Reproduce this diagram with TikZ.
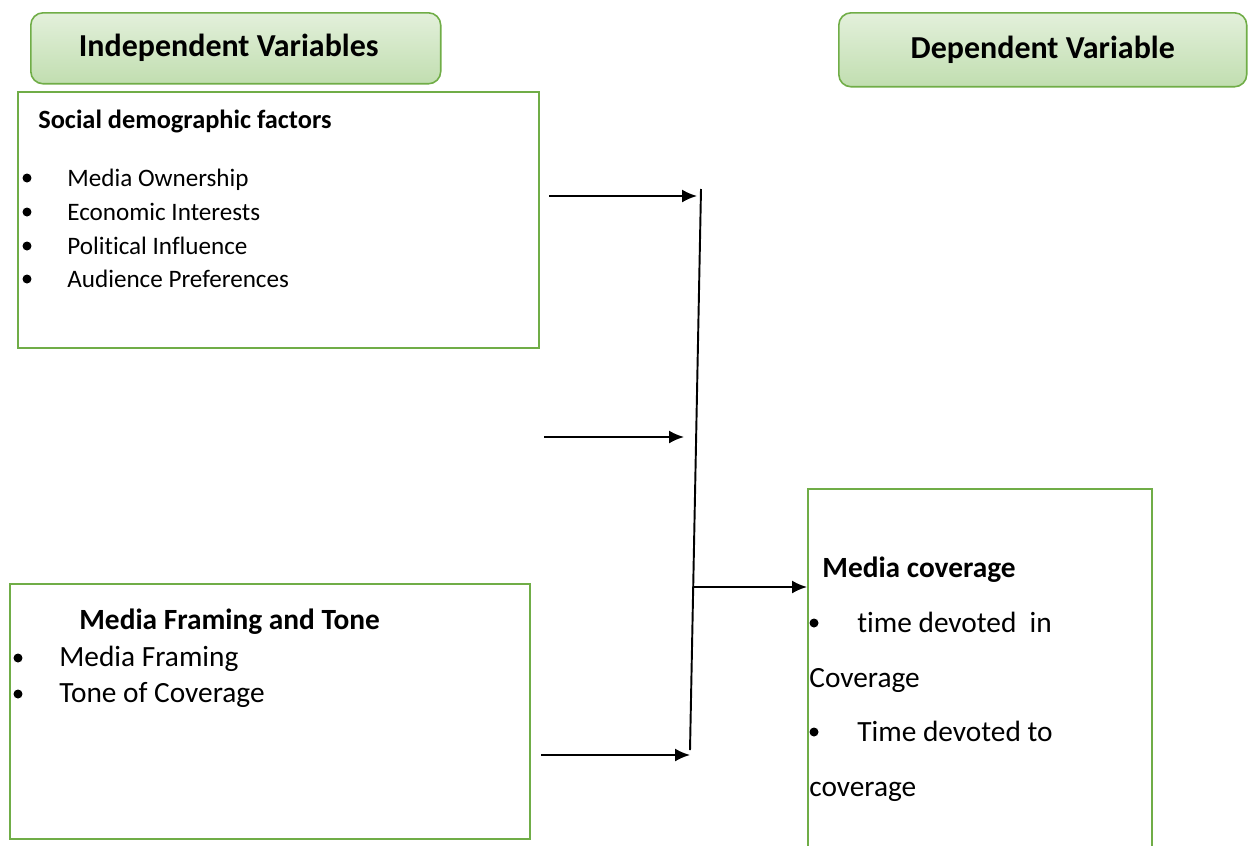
\documentclass[tikz,border=0pt]{standalone}
\usepackage{fontspec}
\setmainfont{Carlito}[Ligatures=NoCommon]
\usetikzlibrary{positioning,arrows.meta,shadings}
\definecolor{border}{RGB}{112,173,71}
\definecolor{headtop}{RGB}{227,240,219}
\definecolor{headbot}{RGB}{193,222,176}
\tikzset{%
  header/.style={draw=border, line width=0.9pt, rounded corners=7pt, top color=headtop,
    bottom color=headbot, anchor=north west, inner sep=0pt,
    font=\fontsize{18.2}{21}\selectfont\bfseries},% variable kind heading
  factor/.style={draw=border, line width=1.2pt, anchor=north west, inner sep=0pt},% green frame
  title/.style={anchor=base west, inner sep=0pt, font=\fontsize{15}{17}\selectfont\bfseries},
  bigtitle/.style={title, font=\fontsize{16.7}{19}\selectfont\bfseries},
  item/.style={anchor=base west, inner sep=0pt, font=\fontsize{14.3}{17}\selectfont},
  bigitem/.style={item, font=\fontsize{16.7}{19}\selectfont},
  dot/.style={circle, fill=black, inner sep=0pt, minimum size=0.18cm},% list bullet
  link/.style={line width=1.1pt, -{Latex[length=0.3cm, width=0.26cm]}}
}

\begin{document}
\begin{tikzpicture}[x=0.02cm, y=-0.02cm]
\useasboundingbox (0,0) rectangle (1250,845);

\node[header, minimum width=8.2cm, minimum height=1.42cm] (indep) at (30,12) {Independent Variables\hspace*{0.28cm}};
\node[header, minimum width=8.16cm, minimum height=1.48cm] (dep) at (838,12) {Dependent Variable};

\node[factor, minimum width=10.42cm, minimum height=5.12cm] (social) at (17,91) {};
\node[factor, minimum width=10.4cm, minimum height=5.1cm] (framing) at (9,583) {};
\node[factor, minimum width=6.88cm, minimum height=7.4cm] (coverage) at (807,488) {};

%%%% social demographic factors
\node[title] (socialt) at (38,128) {Social demographic factors};
\node[item] (own) at (67,186) {Media Ownership};
\node[item] (econ) at (67,220) {Economic Interests};
\node[item] (pol) at (67,254) {Political Influence};
\node[item] (aud) at (67,287) {Audience Preferences};
\node[dot] (b1) at (27,178) {};
\node[dot] (b2) at (27,212) {};
\node[dot] (b3) at (27,246) {};
\node[dot] (b4) at (27,279) {};

%%%% media framing and tone
\node[bigtitle] (framingt) at (79,629) {Media Framing and Tone};
\node[bigitem] (frame) at (59,666) {Media Framing};
\node[bigitem] (tone) at (59,702) {Tone of Coverage};
\node[dot] (b5) at (18,658) {};
\node[dot] (b6) at (18,694) {};

%%%% media coverage
\node[bigtitle] (coveraget) at (822,577) {Media coverage};
\node[bigitem] (tin) at (857,632) {time devoted\ \ in};
\node[bigitem] (tin2) at (809,687) {Coverage};
\node[bigitem] (tto) at (857,741) {Time devoted to};
\node[bigitem] (tto2) at (809,796) {coverage};
\node[dot] (b7) at (814,623) {};
\node[dot] (b8) at (814,732) {};

%%%% arrows
\coordinate (bartop) at (701,189);
\coordinate (barbot) at (690,750);
\coordinate (s1) at (549,196);
\coordinate (e1) at (697,196);
\coordinate (s2) at (544,437);
\coordinate (e2) at (684,437);
\coordinate (s3) at (541,755);
\coordinate (e3) at (690,755);
\coordinate (out) at (693,587);

\draw[line width=1.1pt] (bartop) -- (barbot);
\draw[link] (s1) -- (e1);
\draw[link] (s2) -- (e2);
\draw[link] (s3) -- (e3);
\draw[link] (out) -- (out -| coverage.west);
\end{tikzpicture}
\end{document}
